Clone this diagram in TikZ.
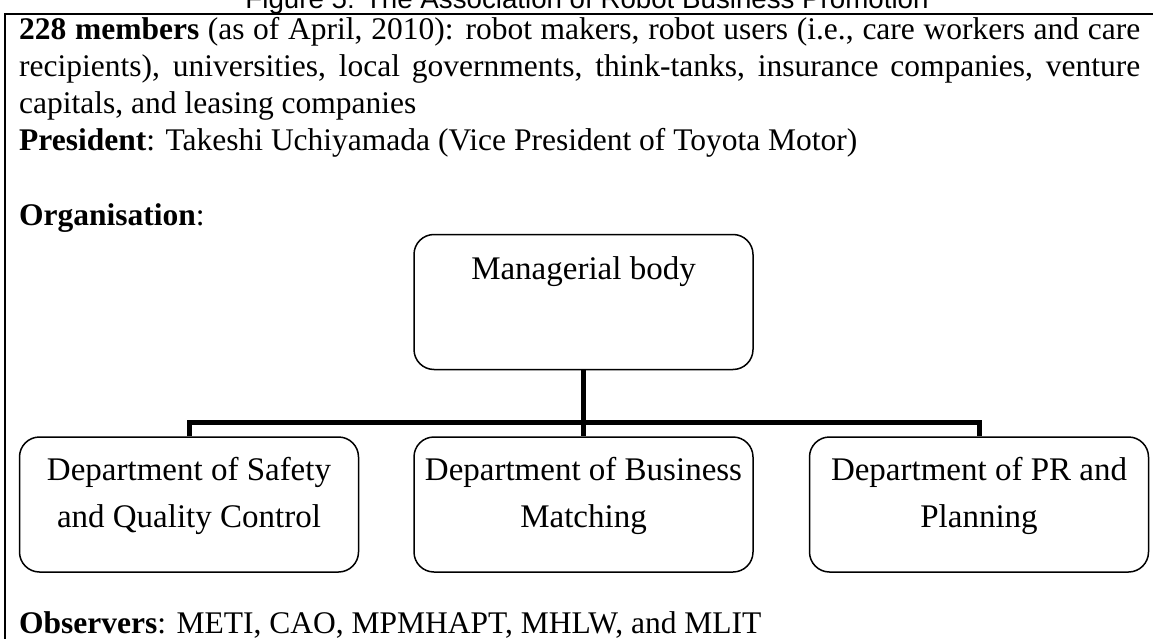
\documentclass[tikz,border=0pt]{standalone}
\usepackage{fontspec}
\setmainfont{Liberation Serif}
\newfontfamily\titlefont{Liberation Sans}
\begin{document}
\begin{tikzpicture}[x=1pt,y=-1pt,
  body/.style={anchor=base west,inner sep=0pt,font=\fontsize{31.5}{37}\selectfont},
  orgbox/.style={draw,line width=1.5pt,rounded corners=20pt,minimum width=339pt,minimum height=135pt,inner sep=0pt},
  boxtext/.style={anchor=base,inner sep=0pt,font=\fontsize{33}{38}\selectfont},
  conn/.style={line width=5pt}]
\useasboundingbox (0,0) rectangle (1153,639);
\clip (0,0) rectangle (1153,639);
\coordinate (bl) at (5,650);
\coordinate (tl) at (5,14);
\coordinate (tr) at (1160,14);
\draw[line width=2pt] (bl) -- (tl) -- (tr);
\node[anchor=base,inner sep=0pt,font=\titlefont\fontsize{27.7}{28}\selectfont] (title) at (587,8.5) {Figure 5: The Association of Robot Business Promotion};
\node[body] (l1) at (19,40) {\makebox[1121pt][s]{\textbf{228 members} (as of April, 2010): robot makers, robot users (i.e., care workers and care}};
\node[body] (l2) at (19,77) {\makebox[1121pt][s]{recipients), universities, local governments, think-tanks, insurance companies, venture}};
\node[body] (l3) at (19,114) {capitals, and leasing companies};
\node[body] (l4) at (19,151) {\textbf{President}: Takeshi Uchiyamada (Vice President of Toyota Motor)};
\node[body] (org) at (19,225) {\textbf{Organisation}:};
\node[body] (obs) at (19,633) {\textbf{Observers}: METI, CAO, MPMHAPT, MHLW, and MLIT};
% boxes
\node[orgbox] (mb) at (583.5,302) {};
\node[boxtext] (mbt) at (583.5,279) {Managerial body};
\node[orgbox] (dl) at (189,504.5) {};
\node[orgbox] (dm) at (583.5,504.5) {};
\node[orgbox] (dr) at (979,504.5) {};
\node[boxtext] (dlt1) at (189,480) {Department of Safety};
\node[boxtext] (dlt2) at (189,527) {and Quality Control};
\node[boxtext] (dmt1) at (583.5,480) {Department of Business};
\node[boxtext] (dmt2) at (583.5,527) {Matching};
\node[boxtext] (drt1) at (979,480) {Department of PR and};
\node[boxtext] (drt2) at (979,527) {Planning};
\coordinate (bus) at (583.5,422);
\draw[conn] (mb.south) -- (dm.north);
\draw[conn] (dl.north) -- (dl.north |- bus) -- (dr.north |- bus) -- (dr.north);
\end{tikzpicture}
\end{document}
